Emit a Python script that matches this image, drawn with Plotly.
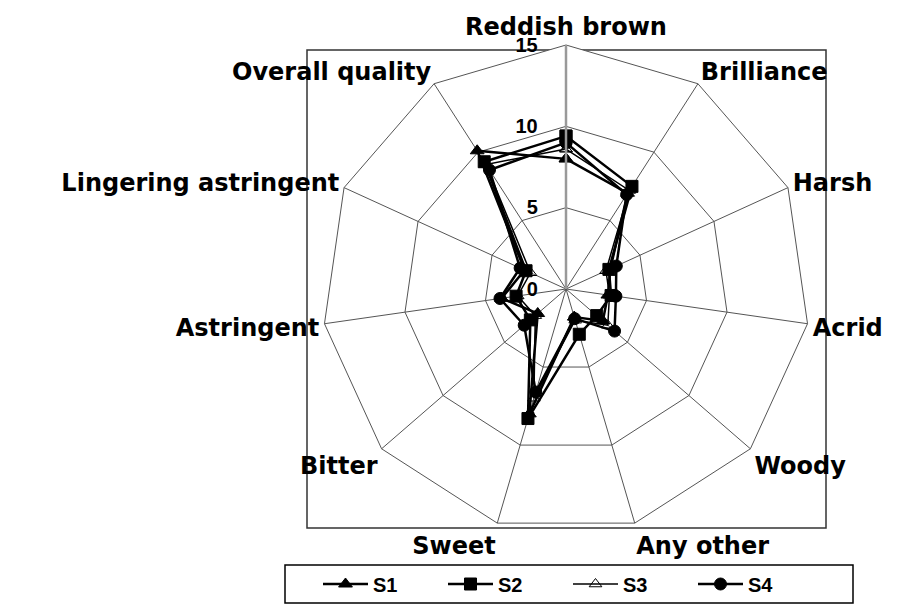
import plotly.graph_objects as go

categories = ["Reddish brown", "Brilliance", "Harsh", "Acrid", "Woody", "Any other",
              "Sweet", "Bitter", "Astringent", "Lingering astringent", "Overall quality"]
series_names = ["S1", "S2", "S3", "S4"]
s1 = [8.0, 7.0, 3.0, 2.6, 3.0, 1.8, 8.0, 2.3, 4.0, 2.8, 10.1]
s2 = [9.4, 7.5, 2.9, 2.8, 2.5, 2.9, 8.3, 2.9, 3.1, 2.7, 9.3]
s3 = [8.6, 7.2, 2.7, 2.7, 3.4, 2.0, 7.0, 2.5, 3.0, 2.4, 9.1]
s4 = [9.0, 6.9, 3.4, 3.1, 3.95, 1.9, 6.6, 3.4, 4.1, 3.1, 8.7]
radial_ticks = [0, 5, 10, 15]

W, H = 914, 614
OFF = 8  # page offset compensation
cx, cy, R = 566 - OFF, 289 - OFF, 244

styles = {
    "S1": dict(symbol="triangle-up", size=12, color="black", line=dict(color="black", width=1)),
    "S2": dict(symbol="square", size=12, color="black", line=dict(color="black", width=1)),
    "S3": dict(symbol="triangle-up-open", size=11, color="black", line=dict(color="black", width=1)),
    "S4": dict(symbol="circle", size=12, color="black", line=dict(color="black", width=1)),
}
widths = {"S1": 2.5, "S2": 2.5, "S3": 1.5, "S4": 2.5}

fig = go.Figure()
for name, vals in zip(series_names, [s1, s2, s3, s4]):
    fig.add_trace(go.Scatterpolar(
        r=vals + vals[:1],
        theta=categories + categories[:1],
        mode="lines+markers",
        name=name,
        line=dict(color="black", width=widths[name]),
        marker=styles[name],
    ))

font_family = "Liberation Sans, Arial, sans-serif"
label_family = "DejaVu Sans, Liberation Sans, sans-serif"
fig.update_layout(
    width=W, height=H,
    margin=dict(l=0, r=0, t=0, b=0),
    paper_bgcolor="white",
    plot_bgcolor="white",
    font=dict(family=font_family, color="black"),
    polar=dict(
        domain=dict(x=[(cx - R) / W, (cx + R) / W], y=[(H - cy - R) / H, (H - cy + R) / H]),
        bgcolor="white",
        gridshape="linear",
        radialaxis=dict(
            range=[0, 15],
            tickvals=radial_ticks,
            ticktext=[str(t) for t in radial_ticks],
            angle=90,
            tickangle=90,
            side="counterclockwise",
            showline=True,
            linecolor="#999999",
            linewidth=2.5,
            gridcolor="#555555",
            gridwidth=1,
            ticks="outside",
            ticklen=20,
            tickcolor="rgba(0,0,0,0)",
            tickfont=dict(size=20, family=font_family, color="black", weight="bold"),
        ),
        angularaxis=dict(
            rotation=90,
            direction="clockwise",
            showline=True,
            linecolor="#555555",
            linewidth=1,
            gridcolor="#555555",
            gridwidth=1,
            ticks="",
            tickfont=dict(size=24, family=label_family, color="black", weight="bold"),
        ),
    ),
    showlegend=True,
    legend=dict(
        orientation="h",
        x=(318 - OFF) / W, xanchor="left",
        y=(H - (584 - OFF)) / H, yanchor="middle",
        borderwidth=0,
        bgcolor="rgba(0,0,0,0)",
        font=dict(size=20, family=font_family, color="black", weight="bold"),
        itemwidth=45,
        entrywidth=65,
    ),
    shapes=[
        dict(type="rect", xref="paper", yref="paper",
             x0=(307 - OFF) / W, x1=(826 - OFF) / W,
             y0=(H - (528 - OFF)) / H, y1=(H - (50 - OFF)) / H,
             line=dict(color="#333333", width=1.5), layer="below"),
        dict(type="rect", xref="paper", yref="paper",
             x0=(285 - OFF) / W, x1=(853 - OFF) / W,
             y0=(H - (603 - OFF)) / H, y1=(H - (565 - OFF)) / H,
             line=dict(color="black", width=1.5), layer="below"),
    ],
)

fig.write_html("out.html")
